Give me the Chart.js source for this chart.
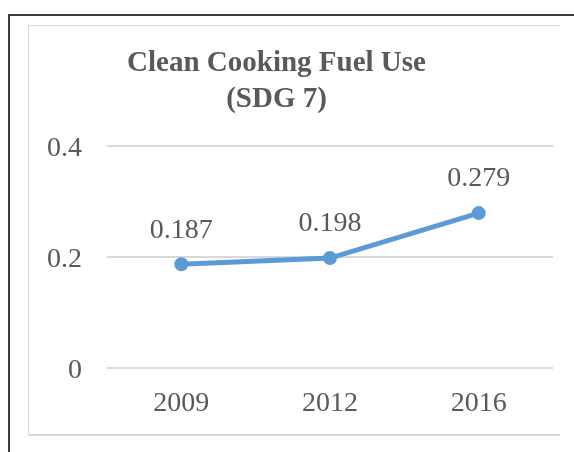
<!DOCTYPE html>
<html>
<head>
<meta charset="utf-8">
<script src="https://cdn.jsdelivr.net/npm/chart.js@4"></script>
<style>
  html, body { margin: 0; padding: 0; background: #fff; }
  #wrap { position: relative; width: 574px; height: 452px; overflow: hidden; }
  .ln { position: absolute; }
  canvas { position: absolute; left: 0; top: 0; }
</style>
</head>
<body>
<div id="wrap">
  <div class="ln" style="left:8px;top:14px;width:566px;height:2px;background:#3a3a3a"></div>
  <div class="ln" style="left:8px;top:14px;width:2px;height:438px;background:#3a3a3a"></div>
  <div class="ln" style="left:28px;top:25px;width:532px;height:1px;background:#d9d9d9"></div>
  <div class="ln" style="left:28px;top:25px;width:1px;height:410px;background:#d9d9d9"></div>
  <div class="ln" style="left:28px;top:434px;width:532px;height:2px;background:#d9d9d9"></div>
  <canvas id="c" width="574" height="452"></canvas>
</div>
<script>
const titleLines = ['Clean Cooking Fuel Use', '(SDG 7)'];
const categories = ['2009', '2012', '2016'];
const values = [0.187, 0.198, 0.279];
const valueLabels = ['0.187', '0.198', '0.279'];
const yTicks = [0, 0.2, 0.4];
const yTickLabels = ['0', '0.2', '0.4'];

const textColor = '#595959';
const serif = "'Liberation Serif', 'Times New Roman', serif";

const dataLabelPlugin = {
  id: 'dataLabels',
  afterDatasetsDraw(chart) {
    const ctx = chart.ctx;
    const meta = chart.getDatasetMeta(0);
    ctx.save();
    ctx.font = "28px " + serif;
    ctx.fillStyle = textColor;
    ctx.textAlign = 'center';
    ctx.textBaseline = 'middle';
    meta.data.forEach((pt, i) => {
      ctx.fillText(valueLabels[i], pt.x, pt.y - 34);
    });
    ctx.restore();
  }
};

const yLabelPlugin = {
  id: 'yLabels',
  afterDraw(chart) {
    const ctx = chart.ctx;
    const ys = chart.scales.y;
    ctx.save();
    ctx.font = "28px " + serif;
    ctx.fillStyle = textColor;
    ctx.textAlign = 'right';
    ctx.textBaseline = 'middle';
    yTicks.forEach((v, i) => {
      ctx.fillText(yTickLabels[i], ys.right - 25, ys.getPixelForValue(v) + 3);
    });
    ctx.restore();
  }
};

new Chart(document.getElementById('c'), {
  type: 'line',
  data: {
    labels: categories,
    datasets: [{
      data: values,
      borderColor: '#5B9BD5',
      backgroundColor: '#5B9BD5',
      borderWidth: 5,
      pointRadius: 7,
      pointHoverRadius: 7,
      pointBorderWidth: 0,
      tension: 0,
      clip: false
    }]
  },
  options: {
    responsive: false,
    animation: false,
    events: [],
    layout: { padding: { left: 0, right: 21, top: 0, bottom: 0 } },
    plugins: {
      legend: { display: false },
      tooltip: { enabled: false },
      title: {
        display: true,
        text: titleLines,
        color: textColor,
        font: { family: serif, size: 29, weight: 'bold', lineHeight: 1.24 },
        padding: { top: 46, bottom: 28 }
      }
    },
    scales: {
      x: {
        offset: true,
        grid: { display: false, drawTicks: false },
        border: { display: false },
        ticks: { color: textColor, font: { family: serif, size: 28 }, padding: 19, maxRotation: 0 },
        afterFit(scale) { scale.height = 84; }
      },
      y: {
        min: 0,
        max: 0.4,
        afterBuildTicks(scale) { scale.ticks = yTicks.map(v => ({ value: v })); },
        grid: { color: '#d9d9d9', lineWidth: 2, drawTicks: false },
        border: { display: false },
        ticks: {
          display: false,
          font: { family: serif, size: 28 }
        },
        afterFit(scale) { scale.width = 107; }
      }
    }
  },
  plugins: [dataLabelPlugin, yLabelPlugin]
});
</script>
</body>
</html>
